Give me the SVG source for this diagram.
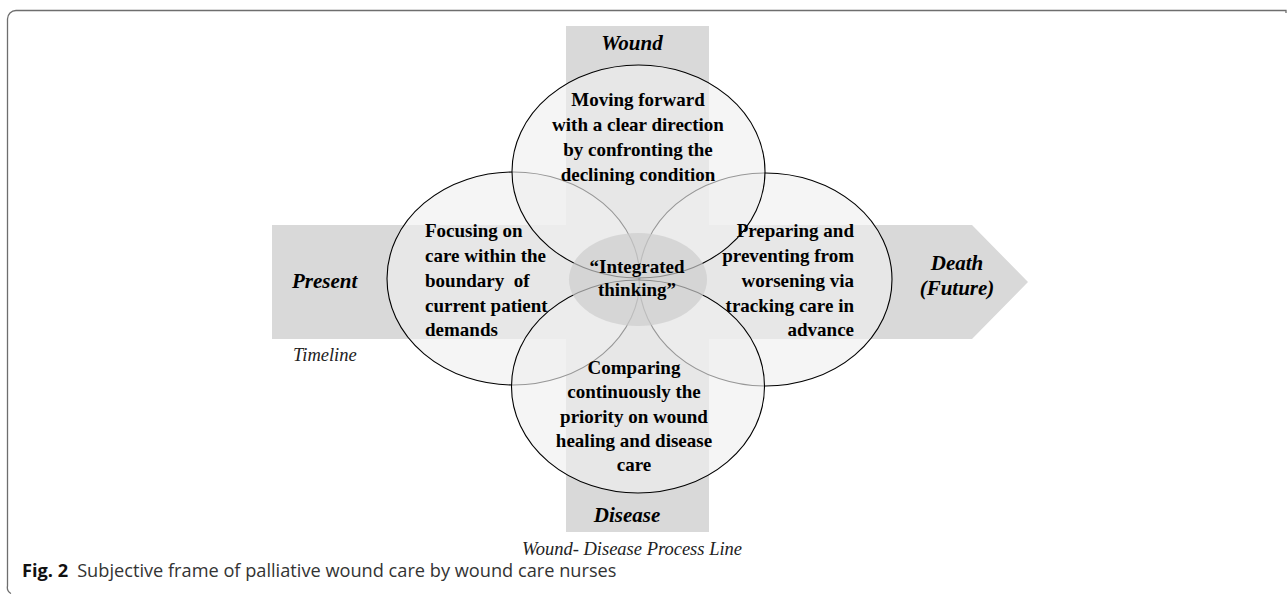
<svg xmlns="http://www.w3.org/2000/svg" width="1287" height="594" viewBox="0 0 1287 594">
  <style>
    .frame { fill: none; stroke: #6e6e6e; stroke-width: 1.3; }
    .band { fill: #d9d9d9; }
    .circle { fill: #efefef; fill-opacity: 0.63; stroke: #000; stroke-width: 1.1; }
    .core { fill: #cccccc; fill-opacity: 0.69; }
    .t { font-family: "Liberation Serif", "Times New Roman", serif; font-size: 19px; font-weight: bold; fill: #000; white-space: pre; }
    .lbl { font-family: "Liberation Serif", "Times New Roman", serif; font-size: 21px; font-weight: bold; font-style: italic; fill: #000; }
    .axis { font-family: "Liberation Serif", "Times New Roman", serif; font-size: 18.5px; font-style: italic; fill: #222; }
    .mid { text-anchor: middle; }
    .end { text-anchor: end; }
    .cap { font-family: "Open Sans", "Noto Sans", sans-serif; font-size: 18.2px; fill: #333; }
    .capb { font-weight: bold; fill: #111; }
  </style>

  <!-- outer figure frame -->
  <path class="frame" d="M1286,13 V10.5 H16 A8.5,8.5 0 0 0 7.5,19 V586 A7,7 0 0 0 11,593.5"/>

  <!-- timeline arrow and wound-disease band -->
  <g id="bands">
    <path class="band" d="M272,225 H566 V26 H709 V225 H972 L1028,282 L972,339 H709 V532 H566 V339 H272 Z"/>
  </g>

  <!-- four overlapping themes -->
  <g id="focusing">
    <ellipse class="circle" cx="513.5" cy="278.5" rx="126.5" ry="106.5"/>
  </g>
  <g id="preparing">
    <ellipse class="circle" cx="765.5" cy="279.5" rx="126.5" ry="106.5"/>
  </g>
  <g id="moving">
    <ellipse class="circle" cx="638.5" cy="171.5" rx="126.5" ry="106.5"/>
  </g>
  <g id="comparing">
    <ellipse class="circle" cx="638" cy="386.5" rx="126.5" ry="106.5"/>
  </g>
  <g id="integrated">
    <ellipse class="core" cx="638" cy="279.5" rx="69" ry="46.5"/>
  </g>

  <!-- theme texts -->
  <g id="moving-text" class="t mid">
    <text x="638" y="106">Moving forward</text>
    <text x="638" y="131">with a clear direction</text>
    <text x="638" y="156">by confronting the</text>
    <text x="638" y="181">declining condition</text>
  </g>
  <g id="focusing-text" class="t">
    <text x="425" y="237">Focusing on</text>
    <text x="425" y="262">care within the</text>
    <text x="425" y="287" xml:space="preserve">boundary  of</text>
    <text x="425" y="312">current patient</text>
    <text x="425" y="336">demands</text>
  </g>
  <g id="preparing-text" class="t end">
    <text x="854" y="237">Preparing and</text>
    <text x="854" y="262">preventing from</text>
    <text x="854" y="287">worsening via</text>
    <text x="854" y="312">tracking care in</text>
    <text x="854" y="336">advance</text>
  </g>
  <g id="comparing-text" class="t mid">
    <text x="634" y="374">Comparing</text>
    <text x="634" y="398">continuously the</text>
    <text x="634" y="423">priority on wound</text>
    <text x="634" y="447">healing and disease</text>
    <text x="634" y="471">care</text>
  </g>
  <g id="integrated-text" class="t mid">
    <text x="637" y="273">“Integrated</text>
    <text x="637" y="296">thinking”</text>
  </g>

  <!-- axis labels -->
  <g id="labels">
    <text class="lbl mid" x="632" y="50">Wound</text>
    <text class="lbl" x="292" y="288">Present</text>
    <text class="lbl mid" x="957" y="270">Death</text>
    <text class="lbl mid" x="957" y="295">(Future)</text>
    <text class="lbl mid" x="627" y="522">Disease</text>
    <text class="axis" x="293" y="361">Timeline</text>
    <text class="axis mid" x="632" y="555">Wound- Disease Process Line</text>
  </g>

  <!-- caption -->
  <text class="cap" x="22" y="577"><tspan class="capb">Fig. 2</tspan><tspan dx="9">Subjective frame of palliative wound care by wound care nurses</tspan></text>
</svg>
